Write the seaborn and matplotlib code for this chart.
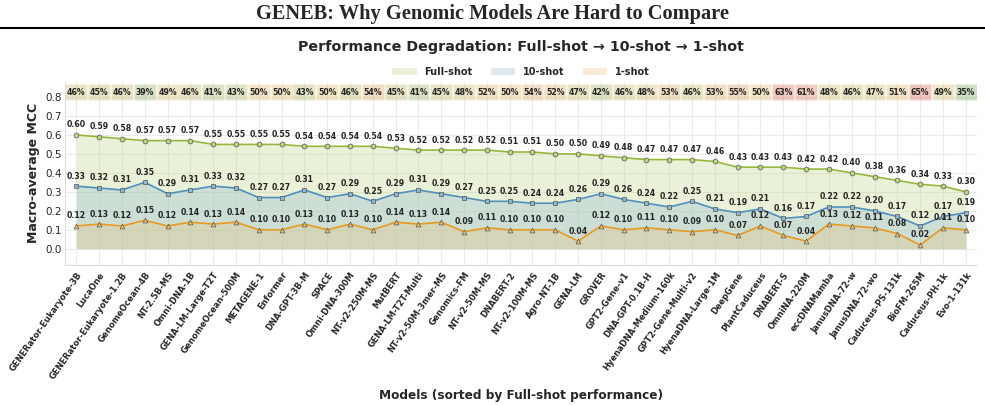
import matplotlib
matplotlib.use("Agg")
import matplotlib.pyplot as plt
import matplotlib.colors as mcolors
from matplotlib.patches import Patch
from matplotlib.lines import Line2D
import numpy as np
import pandas as pd
import seaborn as sns

# data .............................................................
models = [
    "GENERator-Eukaryote-3B", "LucaOne", "GENERator-Eukaryote-1.2B", "GenomeOcean-4B",
    "NT-2.5B-MS", "Omni-DNA-1B", "GENA-LM-Large-T2T", "GenomeOcean-500M", "METAGENE-1",
    "Enformer", "DNA-GPT-3B-M", "SPACE", "Omni-DNA-300M", "NT-v2-250M-MS", "MutBERT",
    "GENA-LM-T2T-Multi", "NT-v2-50M-3mer-MS", "Genomics-FM", "NT-v2-50M-MS", "DNABERT-2",
    "NT-v2-100M-MS", "Agro-NT-1B", "GENA-LM", "GROVER", "GPT2-Gene-v1", "DNA-GPT-0.1B-H",
    "HyenaDNA-Medium-160k", "GPT2-Gene-Multi-v2", "HyenaDNA-Large-1M", "DeepGene",
    "PlantCaduceus", "DNABERT-S", "OmniNA-220M", "eccDNAMamba", "JanusDNA-72-w",
    "JanusDNA-72-wo", "Caduceus-PS-131k", "BioFM-265M", "Caduceus-PH-1k", "Evo-1-131k",
]
full_shot = [0.60, 0.59, 0.58, 0.57, 0.57, 0.57, 0.55, 0.55, 0.55, 0.55,
             0.54, 0.54, 0.54, 0.54, 0.53, 0.52, 0.52, 0.52, 0.52, 0.51,
             0.51, 0.50, 0.50, 0.49, 0.48, 0.47, 0.47, 0.47, 0.46, 0.43,
             0.43, 0.43, 0.42, 0.42, 0.40, 0.38, 0.36, 0.34, 0.33, 0.30]
ten_shot = [0.33, 0.32, 0.31, 0.35, 0.29, 0.31, 0.33, 0.32, 0.27, 0.27,
            0.31, 0.27, 0.29, 0.25, 0.29, 0.31, 0.29, 0.27, 0.25, 0.25,
            0.24, 0.24, 0.26, 0.29, 0.26, 0.24, 0.22, 0.25, 0.21, 0.19,
            0.21, 0.16, 0.17, 0.22, 0.22, 0.20, 0.17, 0.12, 0.17, 0.19]
one_shot = [0.12, 0.13, 0.12, 0.15, 0.12, 0.14, 0.13, 0.14, 0.10, 0.10,
            0.13, 0.10, 0.13, 0.10, 0.14, 0.13, 0.14, 0.09, 0.11, 0.10,
            0.10, 0.10, 0.04, 0.12, 0.10, 0.11, 0.10, 0.09, 0.10, 0.07,
            0.12, 0.07, 0.04, 0.13, 0.12, 0.11, 0.08, 0.02, 0.11, 0.10]
degradation_pct = [46, 45, 46, 39, 49, 46, 41, 43, 50, 50,
                   43, 50, 46, 54, 45, 41, 45, 48, 52, 50,
                   54, 52, 47, 42, 46, 48, 53, 46, 53, 55,
                   50, 63, 61, 48, 46, 47, 51, 65, 49, 35]

df = pd.DataFrame({
    "pos": np.arange(len(models)),
    "model": models,
    "Full-shot": full_shot,
    "10-shot": ten_shot,
    "1-shot": one_shot,
})

# styles
series = [
    # name, line color, fill color, marker
    ("Full-shot", "#96b83a", "#b9d77f", "o"),
    ("10-shot", "#4d8fbf", "#8fb6cf", "s"),
    ("1-shot", "#e8991e", "#e8c27a", "^"),
]

# Figure, ..........................................................
sns.set_style("whitegrid")
plt.rcParams["font.family"] = ["DejaVu Sans"]

fig = plt.figure(figsize=(9.85, 4.05), dpi=100, facecolor="white")
ax = fig.add_axes([0.066, 0.346, 0.926, 0.452])

for name, lc, fc, mk in series:
    ax.fill_between(df["pos"], 0, df[name], color=fc, alpha=0.3, linewidth=0, zorder=1)
    sns.lineplot(data=df, x="pos", y=name, ax=ax, color=lc, linewidth=1.2,
                 marker=mk, markersize=3.5, markeredgecolor="#555555",
                 markeredgewidth=0.5, markerfacecolor=fc, zorder=3)
    for x, y in zip(df["pos"], df[name]):
        ax.annotate(f"{y:.2f}", (x, y), xytext=(0, 4), textcoords="offset points",
                    ha="center", va="bottom", fontsize=5.6, fontweight="bold",
                    color="#222222", zorder=4)

# degradation boxes
cmap = mcolors.LinearSegmentedColormap.from_list(
    "deg", ["#5f9a3a", "#d8b04a", "#d24030"])
norm = mcolors.Normalize(vmin=35, vmax=65)
box_colors = [cmap(norm(p)) for p in degradation_pct]
ax.bar(df["pos"], 0.083, bottom=0.785, width=0.96, color=box_colors, alpha=0.3,
       edgecolor="white", linewidth=0.4, zorder=2)
for x, p in zip(df["pos"], degradation_pct):
    ax.text(x, 0.826, f"{p}%", ha="center", va="center", fontsize=5.6,
            fontweight="bold", color="#222222", zorder=4)

# axes
ax.set_xlim(-0.5, len(models) - 0.5)
ax.set_ylim(-0.085, 0.88)
ax.set_yticks(np.arange(0, 0.81, 0.1))
ax.set_yticklabels([f"{v:.1f}" for v in np.arange(0, 0.81, 0.1)], fontsize=7.5)
ax.set_xticks(df["pos"])
ax.set_xticklabels(models, rotation=55, ha="right", rotation_mode="anchor",
                   fontsize=6, fontweight="bold")
ax.tick_params(axis="x", length=3, color="#cccccc", pad=1)
ax.tick_params(axis="y", length=0, pad=2)
ax.set_xlabel("Models (sorted by Full-shot performance)", fontsize=8.7,
              fontweight="bold", labelpad=6)
ax.set_ylabel("Macro-average MCC", fontsize=9, fontweight="bold", labelpad=4)
ax.grid(color="#ebebeb", linewidth=0.8)
for s in ["top", "right"]:
    ax.spines[s].set_visible(False)
for s in ["left", "bottom"]:
    ax.spines[s].set_color("#dddddd")

ax.set_title("Performance Degradation: Full-shot \u2192 10-shot \u2192 1-shot",
             fontsize=10.3, fontweight="bold", pad=22)

handles = [Patch(facecolor=fc, alpha=0.3, edgecolor="none", label=name)
           for name, lc, fc, mk in series]
leg = ax.legend(handles=handles, loc="lower center", bbox_to_anchor=(0.5, 1.005),
                ncol=3, frameon=False, fontsize=7, handlelength=2.5,
                handleheight=0.8, columnspacing=1.9, borderaxespad=0)
for t in leg.get_texts():
    t.set_fontweight("bold")

# header
fig.text(0.5, 0.965, "GENEB: Why Genomic Models Are Hard to Compare",
         ha="center", va="center", fontsize=14.7, fontweight="bold",
         family=["Liberation Serif", "DejaVu Serif"])
fig.add_artist(Line2D([0.0, 1.0], [0.932, 0.932], transform=fig.transFigure,
                      color="black", linewidth=1.5))

fig.savefig("out.png", dpi=100, facecolor="white")
